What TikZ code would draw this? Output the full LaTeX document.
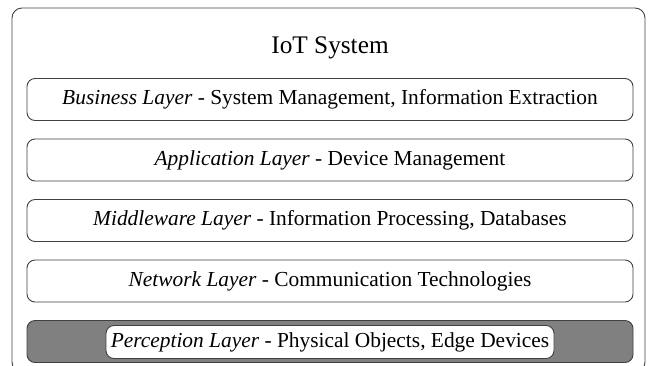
\documentclass[tikz,border=0pt]{standalone}
\usepackage{fontspec}
\setmainfont{Liberation Serif}
\begin{document}
\begin{tikzpicture}[x=1pt,y=-1pt,
  frame/.style={draw=black!75, line width=0.9pt, rounded corners=10pt},
  layer/.style={draw=black!75, line width=0.9pt, rounded corners=8pt, fill=white,
    minimum width=606pt, minimum height=42pt, inner sep=0pt, font=\fontsize{21.4}{24}\selectfont},
  darklayer/.style={layer, fill=black!50},
  inbox/.style={draw=black!75, line width=0.9pt, rounded corners=8pt, fill=white,
    minimum width=448pt, minimum height=33pt, inner sep=0pt, font=\fontsize{21.4}{24}\selectfont}]
\useasboundingbox (0,0) rectangle (655,365);
\draw[frame] (12,8) rectangle (645,372);
\node[font=\fontsize{25.3}{28}\selectfont] (title) at (330,47.5) {IoT System};
\node[layer] (business) at (330,99.5) {\textit{Business Layer} - System Management, Information Extraction};
\node[layer] (application) at (330,160) {\textit{Application Layer} - Device Management};
\node[layer] (middleware) at (330,220.5) {\textit{Middleware Layer} - Information Processing, Databases};
\node[layer] (network) at (330,281) {\textit{Network Layer} - Communication Technologies};
\node[darklayer] (perception) at (330,341.5) {};
\node[inbox] (perctext) at (330,342) {\textit{Perception Layer} - Physical Objects, Edge Devices};
\end{tikzpicture}
\end{document}
